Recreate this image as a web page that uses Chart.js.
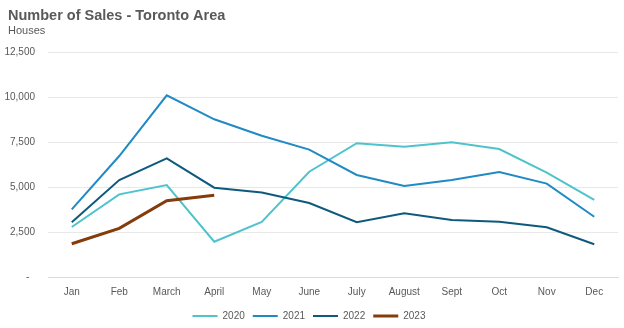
<!DOCTYPE html>
<html>
<head>
<meta charset="utf-8">
<script src="https://cdn.jsdelivr.net/npm/chart.js@4/dist/chart.umd.min.js"></script>
<style>
  html, body { margin: 0; padding: 0; background: #fff; }
  #wrap { width: 624px; height: 328px; }
</style>
</head>
<body>
<div id="wrap"><canvas id="salesChart" width="624" height="328"></canvas></div>
<script>
var chartTitle = 'Number of Sales - Toronto Area';
var chartSubtitle = 'Houses';
var months = ['Jan', 'Feb', 'March', 'April', 'May', 'June', 'July', 'August', 'Sept', 'Oct', 'Nov', 'Dec'];
var sales2020 = [2780, 4590, 5110, 1960, 3060, 5850, 7430, 7240, 7480, 7110, 5800, 4280];
var sales2021 = [3760, 6720, 10090, 8760, 7850, 7080, 5670, 5060, 5390, 5830, 5190, 3350];
var sales2022 = [3040, 5390, 6590, 4960, 4700, 4110, 3040, 3540, 3170, 3070, 2760, 1820];
var sales2023 = [1850, 2700, 4240, 4540];
var yTicks = [0, 2500, 5000, 7500, 10000, 12500];

var grey = '#595959';

// title + subtitle drawn at the left edge, like the Excel original
var titlePlugin = {
  id: 'leftTitle',
  afterDraw: function (chart) {
    var c = chart.ctx;
    c.save();
    c.fillStyle = grey;
    c.textAlign = 'left';
    c.textBaseline = 'alphabetic';
    c.font = 'bold 14.5px "Liberation Sans", Arial, sans-serif';
    c.fillText(chartTitle, 8, 19.5);
    c.font = '11px "Liberation Sans", Arial, sans-serif';
    c.fillText(chartSubtitle, 8, 33.5);
    c.restore();
  }
};

var ctx = document.getElementById('salesChart');
var salesChart = new Chart(ctx, {
  type: 'line',
  data: {
    labels: months,
    datasets: [
      { label: '2020', data: sales2020, borderColor: '#4fc3cc', backgroundColor: '#4fc3cc', borderWidth: 2, order: 4 },
      { label: '2021', data: sales2021, borderColor: '#1f8ac4', backgroundColor: '#1f8ac4', borderWidth: 2, order: 3 },
      { label: '2022', data: sales2022, borderColor: '#0e5a7d', backgroundColor: '#0e5a7d', borderWidth: 2, order: 2 },
      { label: '2023', data: sales2023, borderColor: '#843c0c', backgroundColor: '#843c0c', borderWidth: 3, order: 1 }
    ]
  },
  plugins: [titlePlugin],
  options: {
    responsive: false,
    animation: false,
    layout: { padding: { left: 0, right: 6, top: 52, bottom: -3 } },
    elements: {
      point: { radius: 0 },
      line: { tension: 0 }
    },
    scales: {
      x: {
        offset: true,
        afterFit: function (axis) { axis.height = 26; },
        grid: { display: false, drawTicks: false },
        border: { color: '#d9d9d9', width: 1 },
        ticks: { color: grey, font: { family: 'Liberation Sans', size: 10 }, padding: 9, maxRotation: 0, autoSkip: false }
      },
      y: {
        min: 0,
        max: 12500,
        afterBuildTicks: function (axis) {
          axis.ticks = yTicks.map(function (v) { return { value: v }; });
        },
        afterFit: function (axis) { axis.width = 48; },
        grid: { color: '#e8e8e8', drawTicks: false },
        border: { display: false },
        ticks: {
          color: grey,
          font: { family: 'Liberation Sans', size: 10 },
          padding: 13,
          callback: function (v) { return v === 0 ? '-  ' : v.toLocaleString('en-US'); }
        }
      }
    },
    plugins: {
      legend: {
        position: 'bottom',
        labels: {
          color: grey,
          font: { family: 'Liberation Sans', size: 10 },
          usePointStyle: true,
          pointStyle: 'line',
          pointStyleWidth: 25,
          boxHeight: 10,
          padding: 8,
          sort: function (a, b) { return a.datasetIndex - b.datasetIndex; }
        }
      },
      tooltip: { enabled: false }
    }
  }
});
</script>
</body>
</html>
